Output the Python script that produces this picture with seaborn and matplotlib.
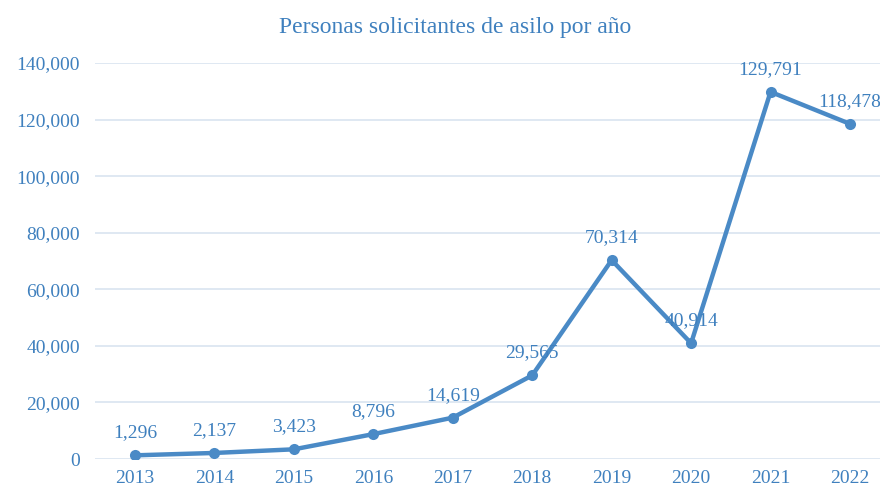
import matplotlib.pyplot as plt
import numpy as np
import pandas as pd
import seaborn as sns

years = ["2013", "2014", "2015", "2016", "2017", "2018", "2019", "2020", "2021", "2022"]
solicitantes = [1296, 2137, 3423, 8796, 14619, 29565, 70314, 40914, 129791, 118478]
y_ticks = [0, 20000, 40000, 60000, 80000, 100000, 120000, 140000]

line_color = "#4A8AC6"
text_color = "#3F80BE"
grid_color = "#DCE6F1"

sns.set_style("white", {"axes.grid": False})
plt.rcParams["font.family"] = ["Liberation Serif", "DejaVu Serif"]

df = pd.DataFrame({"year": years, "value": solicitantes})
df["pos"] = np.arange(len(df))

fig = plt.figure(figsize=(8.8, 4.9), dpi=100)
ax = fig.add_axes([95.3 / 880, 31 / 490, 794.4 / 880, 396 / 490])

for t in y_ticks:
    ax.axhline(t, color=grid_color, lw=1.3, zorder=0)

sns.lineplot(data=df, x="pos", y="value", ax=ax, color=line_color, lw=3.2,
             marker="o", markersize=8, markeredgewidth=0, zorder=3)

# value labels above each point
for x, v in zip(df["pos"], df["value"]):
    ax.annotate(f"{v:,}", (x, v), xytext=(0, 10), textcoords="offset points",
                ha="center", va="bottom", fontsize=14, color=text_color)

ax.set_xlim(-0.5, len(years) - 0.5)
ax.set_ylim(0, 140000)
ax.set_xticks(df["pos"], years)
ax.set_yticks(y_ticks, [f"{t:,}" for t in y_ticks])
ax.tick_params(axis="both", length=0, labelsize=14, labelcolor=text_color)
ax.tick_params(axis="y", pad=11)
ax.tick_params(axis="x", pad=8)
ax.set_xlabel("")
ax.set_ylabel("")
sns.despine(ax=ax, left=True, bottom=True)

fig.text(455 / 880, 1 - 28 / 490, "Personas solicitantes de asilo por año",
         ha="center", va="center", fontsize=17, color=text_color)

fig.savefig("out.png", dpi=100)
